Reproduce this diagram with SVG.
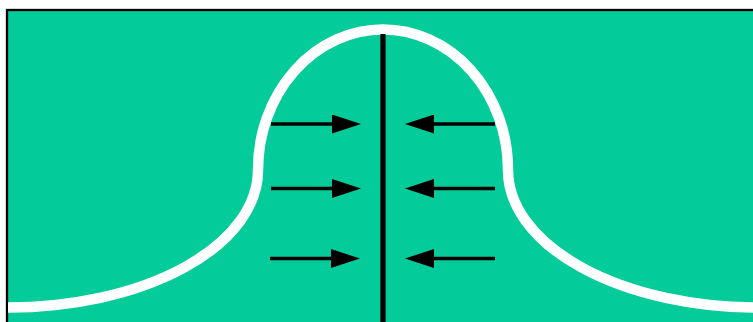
<svg xmlns="http://www.w3.org/2000/svg" width="753" height="322" viewBox="0 0 753 322">
  <defs>
    <style>
      .flow { stroke: #000; stroke-width: 3.5; fill: none; marker-end: url(#head); }
    </style>
    <marker id="head" markerUnits="userSpaceOnUse" markerWidth="29" markerHeight="19" refX="9" refY="9.5" orient="auto">
      <path d="M0,0 L29,9.5 L0,19 Z" fill="#000"/>
    </marker>
  </defs>
  <rect width="753" height="322" fill="#fff"/>
  <!-- field with frame -->
  <g id="field">
    <rect x="7" y="10" width="760" height="330" fill="#03CB9A" stroke="#000" stroke-width="2.3"/>
  </g>
  <!-- white profile: two flanks and a rounded crest -->
  <g id="profile">
    <path d="M8,307.5 A250,137.5 0 0 0 258,170 A125,140.5 0 0 1 508,170 A250,137.5 0 0 0 758,307.5" fill="none" stroke="#fff" stroke-width="10.5"/>
  </g>
  <!-- central axis -->
  <g id="axis">
    <line x1="383" y1="34" x2="383" y2="322" stroke="#000" stroke-width="5.2"/>
  </g>
  <!-- lines end inside the heads; tips sit 20px further on -->
  <g id="connectors">
    <line class="flow" x1="271" y1="124" x2="341" y2="124"/>
    <line class="flow" x1="271" y1="188.5" x2="341" y2="188.5"/>
    <line class="flow" x1="270" y1="258.5" x2="340" y2="258.5"/>
    <line class="flow" x1="495" y1="124" x2="425" y2="124"/>
    <line class="flow" x1="495" y1="188.5" x2="425" y2="188.5"/>
    <line class="flow" x1="495" y1="258.5" x2="425" y2="258.5"/>
  </g>
</svg>
